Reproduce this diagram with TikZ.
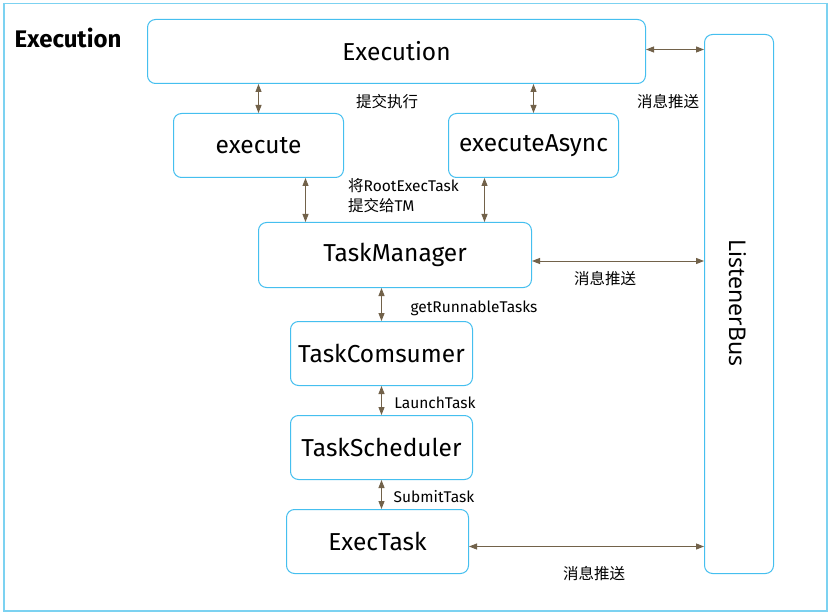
\documentclass[tikz,border=0pt]{standalone}
\usepackage{fontspec}
\setmainfont{Fira Sans}
\newfontfamily\cjk{Noto Sans CJK SC}
\newfontfamily\lbfont{Noto Sans}
\usetikzlibrary{arrows.meta,calc}
\definecolor{boxblue}{HTML}{45BFEF}
\definecolor{frameblue}{HTML}{7CD2F1}
\definecolor{arrbrown}{HTML}{72624A}
\begin{document}
\begin{tikzpicture}[x=1pt,y=-1pt,
  box/.style={draw=boxblue,line width=1pt,rounded corners=8pt,fill=white,inner sep=0pt},
  boxtext/.style={font=\fontsize{24.5}{28}\selectfont},
  arr/.style={draw=arrbrown,line width=1pt,{Triangle[length=8pt,width=6pt]}-{Triangle[length=8pt,width=6pt]}},
  lbl/.style={font=\fontsize{15.5}{18}\selectfont,inner sep=0pt},
  cn/.style={font=\cjk\fontsize{15.5}{18}\selectfont,inner sep=0pt}]
\useasboundingbox (0,0) rectangle (829,612);
\node[draw=frameblue,line width=1.5pt,minimum width=823pt,minimum height=607pt,anchor=north west,inner sep=0pt] (frame) at (3,3) {};
\node[font=\bfseries\fontsize{24}{28}\selectfont,inner sep=0pt] (title) at (68,38) {Execution};
\node[box,boxtext,minimum width=498pt,minimum height=64pt,anchor=north west] (ex) at (147,19) {Execution};
\node[box,boxtext,minimum width=170pt,minimum height=64pt,anchor=north west] (exe) at (173,113) {execute};
\node[box,boxtext,minimum width=170pt,minimum height=64pt,anchor=north west] (exa) at (448,113) {executeAsync};
\node[box,boxtext,minimum width=273pt,minimum height=65pt,anchor=north west] (tm) at (258,222) {TaskManager};
\node[box,boxtext,minimum width=182pt,minimum height=64pt,anchor=north west] (tc) at (290,321) {TaskComsumer};
\node[box,boxtext,minimum width=182pt,minimum height=64pt,anchor=north west] (ts) at (290,415) {TaskScheduler};
\node[box,boxtext,minimum width=182pt,minimum height=64pt,anchor=north west] (et) at (286,509) {ExecTask};
\node[box,minimum width=69pt,minimum height=539pt,anchor=north west] (lb) at (704,34) {};
\node[font=\lbfont\fontsize{23}{26}\selectfont,rotate=-90,inner sep=0pt] (lbt) at (738,303) {ListenerBus};
% arrows
\draw[arr] (ex.south -| exe.north) -- (exe.north);
\draw[arr] (ex.south -| exa.north) -- (exa.north);
\draw[arr] ([xshift=47pt]exe.south) -- ([xshift=47pt]exe.south |- tm.north);
\draw[arr] ([xshift=-49pt]exa.south) -- ([xshift=-49pt]exa.south |- tm.north);
\draw[arr] ([yshift=2pt]ex.east) -- ([yshift=2pt]ex.east -| lb.west);
\draw[arr] ([yshift=-6pt]tm.east) -- ([yshift=-6pt]tm.east -| lb.west);
\draw[arr] (tc.north |- tm.south) -- (tc.north);
\draw[arr] (tc.south) -- (ts.north);
\draw[arr] (ts.south) -- (ts.south |- et.north);
\draw[arr] ([yshift=-5pt]et.east) -- ([yshift=-5pt]et.east -| lb.west);
% labels
\node[cn] (l1) at (387,102) {提交执行};
\node[cn] (l2) at (668,102) {消息推送};
\node[cn,anchor=west] (l3) at (348,186) {将\fontspec{Fira Sans}RootExecTask};
\node[cn,anchor=west] (l4) at (348,206) {提交给\fontspec{Fira Sans}TM};
\node[cn] (l5) at (605,279) {消息推送};
\node[lbl] (l6) at (474,308) {getRunnableTasks};
\node[lbl] (l7) at (435,403) {LaunchTask};
\node[lbl] (l8) at (434,497) {SubmitTask};
\node[cn] (l9) at (594,574) {消息推送};
\end{tikzpicture}
\end{document}
